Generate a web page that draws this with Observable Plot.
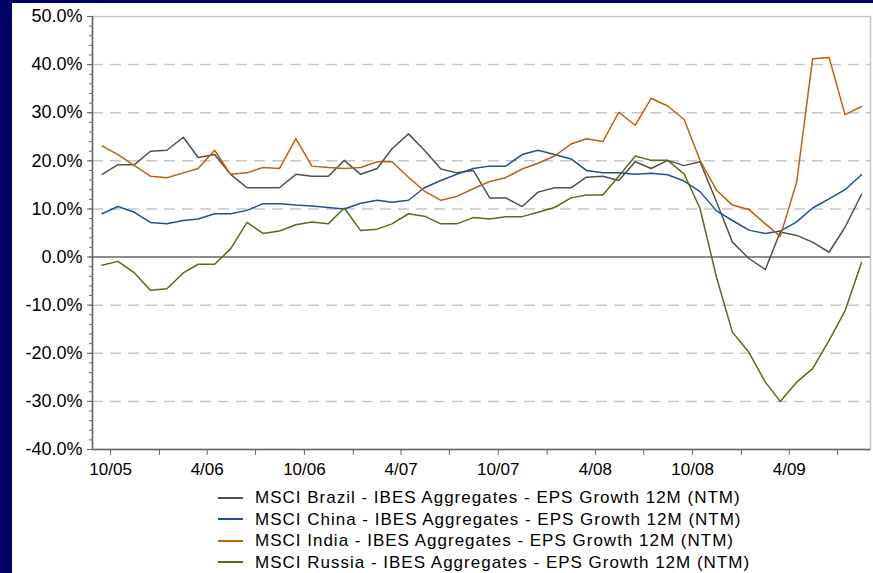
<!DOCTYPE html>
<html><head><meta charset="utf-8">
<script src="https://cdn.jsdelivr.net/npm/d3@7"></script>
<script src="https://cdn.jsdelivr.net/npm/@observablehq/plot@0.6"></script>
<style>
html,body{margin:0;padding:0;}
body{width:873px;height:573px;background:#000066;position:relative;overflow:hidden;font-family:"Liberation Sans",Arial,sans-serif;}
#panel{position:absolute;left:12px;top:3px;width:861px;height:570px;background:#fff;}
#chart{position:absolute;left:0;top:0;}
#legend{position:absolute;left:206px;top:484px;font-size:17px;letter-spacing:1.0px;color:#000;}
.row{height:21.5px;line-height:21.5px;white-space:nowrap;display:flex;align-items:center;}
.sw{display:inline-block;width:25px;height:2px;margin-right:12px;}
</style></head>
<body><div id="panel"><div id="chart"></div><div id="legend"></div></div>
<script>
const months = ["2005-09","2005-10","2005-11","2005-12","2006-01","2006-02","2006-03","2006-04","2006-05","2006-06","2006-07","2006-08",
  "2006-09","2006-10","2006-11","2006-12","2007-01","2007-02","2007-03","2007-04","2007-05","2007-06","2007-07","2007-08",
  "2007-09","2007-10","2007-11","2007-12","2008-01","2008-02","2008-03","2008-04","2008-05","2008-06","2008-07","2008-08",
  "2008-09","2008-10","2008-11","2008-12","2009-01","2009-02","2009-03","2009-04","2009-05","2009-06","2009-07","2009-08"];

const brazil = [17.2,19.2,19.2,22.0,22.2,24.9,20.7,21.3,17.2,14.4,14.4,14.4,
  17.2,16.8,16.8,20.1,17.2,18.4,22.5,25.6,22.2,18.3,17.5,18.0,
  12.3,12.3,10.5,13.5,14.4,14.4,16.6,16.8,15.9,19.8,18.4,20.1,
  19.0,19.8,11.5,3.1,-0.3,-2.6,5.2,4.5,3.1,1.0,6.2,13.0];
const china = [9.0,10.5,9.3,7.2,6.9,7.6,7.9,9.0,9.0,9.7,11.1,11.1,
  10.8,10.6,10.3,10.0,11.2,11.8,11.4,11.8,14.4,15.9,17.2,18.4,
  18.9,18.9,21.3,22.2,21.3,20.4,18.0,17.5,17.5,17.2,17.4,17.1,
  15.8,13.6,9.6,7.6,5.6,4.9,5.4,7.3,10.2,12.1,14.0,17.1];
const india = [23.1,21.3,19.0,16.8,16.5,17.5,18.4,22.2,17.2,17.5,18.6,18.4,
  24.6,18.9,18.6,18.4,18.6,19.8,19.8,16.6,13.7,11.8,12.6,14.2,
  15.7,16.5,18.3,19.5,21.0,23.5,24.6,24.0,30.1,27.4,33.0,31.4,
  28.6,20.1,13.9,10.8,9.9,6.9,4.3,15.6,41.2,41.5,29.6,31.3];
const russia = [-1.7,-0.9,-3.3,-6.9,-6.6,-3.3,-1.5,-1.5,1.7,7.2,4.9,5.4,
  6.7,7.3,6.9,10.2,5.5,5.8,6.9,9.0,8.5,6.9,6.9,8.2,
  7.9,8.4,8.4,9.3,10.3,12.3,12.9,12.9,16.8,21.0,20.1,20.1,
  17.3,10.1,-4.2,-15.6,-19.8,-26.0,-30.0,-26.0,-23.2,-17.3,-11.2,-1.2];

const seriesNames = [
  "MSCI Brazil - IBES Aggregates - EPS Growth 12M (NTM)",
  "MSCI China - IBES Aggregates - EPS Growth 12M (NTM)",
  "MSCI India - IBES Aggregates - EPS Growth 12M (NTM)",
  "MSCI Russia - IBES Aggregates - EPS Growth 12M (NTM)"];
const seriesColors = ["#505050","#1f4f9c","#c0600c","#5a6b1a"];

const yTicks = [-40,-30,-20,-10,0,10,20,30,40,50];
const yMinorTicks = d3.range(-40, 50.01, 2);
const xTickMonths = ["2005-10","2006-01","2006-04","2006-07","2006-10","2007-01","2007-04","2007-07",
  "2007-10","2008-01","2008-04","2008-07","2008-10","2009-01","2009-04","2009-07"];
const xTickLabels = ["10/05","","4/06","","10/06","","4/07","","10/07","","4/08","","10/08","","4/09",""];

function monthDate(s, day) { const [y, m] = s.split("-").map(Number); return new Date(Date.UTC(y, m - 1, day)); }

const values = [brazil, china, india, russia];
const rows = [];
values.forEach((vals, s) => vals.forEach((v, i) => rows.push({series: seriesNames[s], date: monthDate(months[i], 15), value: v})));

const xDomain = [new Date(Date.UTC(2005, 7, 28)), new Date(Date.UTC(2009, 8, 1))];
const tickDates = xTickMonths.map(m => monthDate(m, 1));
const labelMap = new Map(tickDates.map((d, i) => [+d, xTickLabels[i]]));

const axisColor = "#666666";
const gridColor = "#c6c6c6";

const chart = Plot.plot({
  width: 861, height: 477,
  marginLeft: 80, marginRight: 3, marginTop: 13, marginBottom: 31,
  style: {fontFamily: "'Liberation Sans', Arial, sans-serif", background: "transparent", color: "#000", overflow: "visible"},
  x: {type: "utc", domain: xDomain, axis: null},
  y: {domain: [-40, 50], axis: null},
  color: {domain: seriesNames, range: seriesColors},
  marks: [
    Plot.ruleY(yTicks.filter(d => d > -40 && d < 50 && d !== 0), {stroke: gridColor, strokeWidth: 1.5, strokeDasharray: "11,7"}),
    Plot.frame({stroke: gridColor, strokeWidth: 1.5}),
    Plot.ruleY([0], {stroke: axisColor, strokeWidth: 1.5}),
    Plot.ruleY([-40], {stroke: axisColor, strokeWidth: 1.5}),
    Plot.ruleX([xDomain[0]], {stroke: axisColor, strokeWidth: 1.5}),
    Plot.axisY({ticks: yMinorTicks, tickSize: 3, tickFormat: () => "", stroke: axisColor, label: null}),
    Plot.axisY({ticks: yTicks, tickSize: 5, tickPadding: 5, tickFormat: d => d.toFixed(1) + "%", fontSize: 18, stroke: axisColor, fill: "#000", label: null}),
    Plot.axisX({ticks: tickDates, tickSize: 6, tickPadding: 7, tickFormat: d => labelMap.get(+d) ?? "", fontSize: 17, stroke: axisColor, fill: "#000", label: null}),
    Plot.line(rows, {x: "date", y: "value", z: "series", stroke: "series", strokeWidth: 1.5})
  ]
});
document.getElementById("chart").appendChild(chart);

const legend = document.getElementById("legend");
seriesNames.forEach((name, i) => {
  const row = document.createElement("div");
  row.className = "row";
  const sw = document.createElement("span");
  sw.className = "sw";
  sw.style.background = seriesColors[i];
  row.appendChild(sw);
  row.appendChild(document.createTextNode(name));
  legend.appendChild(row);
});
</script></body></html>
